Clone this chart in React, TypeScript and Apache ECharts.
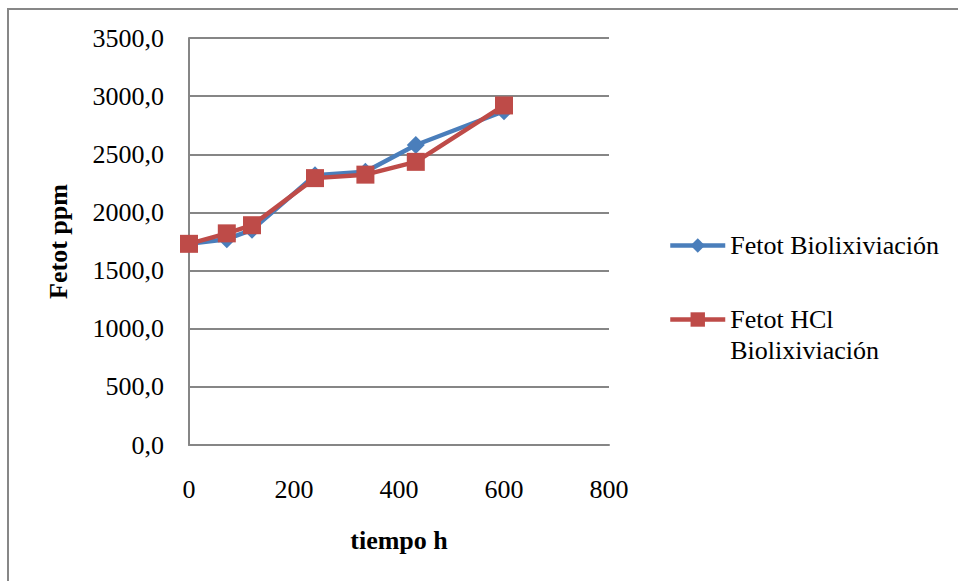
import React, { useEffect, useRef } from "react";
import * as echarts from "echarts";

const timeHours = [0, 72, 120, 240, 336, 432, 600];
const fetotBio = [1730, 1770, 1850, 2320, 2350, 2580, 2870];
const fetotHCl = [1730, 1820, 1890, 2295, 2325, 2435, 2920];
const seriesNames = ["Fetot Biolixiviación", "Fetot HCl Biolixiviación"];
const yTitle = "Fetot ppm";
const xTitle = "tiempo h";

const FONT = "Liberation Serif";

export default function App() {
  const ref = useRef<HTMLDivElement>(null);
  useEffect(() => {
    if (!ref.current) return;
    const chart = echarts.init(ref.current, undefined, { renderer: "svg" });
    const pair = (ys: number[]) => timeHours.map((x, i) => [x, ys[i]]);
    chart.setOption({
      animation: false,
      backgroundColor: "#ffffff",
      textStyle: { fontFamily: FONT },
      grid: { left: 189, top: 38, width: 420, height: 407, containLabel: false },
      xAxis: {
        type: "value",
        min: 0,
        max: 800,
        interval: 200,
        axisLine: { show: true, lineStyle: { color: "#868686", width: 2 } },
        axisTick: { show: false },
        splitLine: { show: false },
        axisLabel: { color: "#000", fontSize: 26, fontFamily: FONT, margin: 31 },
        name: xTitle,
        nameLocation: "middle",
        nameGap: 82,
        nameTextStyle: { color: "#000", fontSize: 26, fontWeight: "bold", fontFamily: FONT },
      },
      yAxis: {
        type: "value",
        min: 0,
        max: 3500,
        interval: 500,
        axisLine: { show: true, lineStyle: { color: "#868686", width: 2 } },
        axisTick: { show: false },
        splitLine: { show: true, lineStyle: { color: "#868686", width: 2 } },
        axisLabel: {
          color: "#000",
          fontSize: 26,
          fontFamily: FONT,
          margin: 25,
          formatter: (v: number) => v.toFixed(1).replace(".", ","),
        },
        name: yTitle,
        nameLocation: "middle",
        nameGap: 118,
        nameRotate: 90,
        nameTextStyle: { color: "#000", fontSize: 26, fontWeight: "bold", fontFamily: FONT },
      },
      legend: [
        {
          data: [seriesNames[0]],
          orient: "vertical",
          left: 668,
          top: 230,
          padding: 0,
          itemWidth: 55,
          itemHeight: 18,
          itemGap: 5,
          lineStyle: { width: 4.5 },
          textStyle: { color: "#000", fontSize: 26, fontFamily: FONT, lineHeight: 31 },
        },
        {
          data: [seriesNames[1]],
          orient: "vertical",
          left: 668,
          top: 273,
          padding: 0,
          itemWidth: 55,
          itemHeight: 18,
          lineStyle: { width: 4.5 },
          formatter: () => "\nFetot HCl\nBiolixiviación",
          textStyle: {
            color: "#000",
            fontSize: 26,
            fontFamily: FONT,
            lineHeight: 31,
          },
        },
      ],
      series: [
        {
          name: seriesNames[0],
          type: "line",
          data: pair(fetotBio),
          symbol: "diamond",
          symbolSize: 18,
          lineStyle: { color: "#4A7EBB", width: 4.5 },
          itemStyle: { color: "#4A7EBB" },
          z: 2,
        },
        {
          name: seriesNames[1],
          type: "line",
          data: pair(fetotHCl),
          symbol: "rect",
          symbolSize: 18,
          lineStyle: { color: "#BE4B48", width: 4.5 },
          itemStyle: { color: "#BE4B48" },
          z: 3,
        },
      ],
      graphic: [
        {
          type: "rect",
          shape: { x: 8, y: 9, width: 980, height: 620 },
          style: { fill: "none", stroke: "#878787", lineWidth: 2 },
          silent: true,
        },
      ],
    });
    return () => chart.dispose();
  }, []);
  return (
    <div
      ref={ref}
      style={{ position: "fixed", left: 0, top: 0, width: 958, height: 581 }}
    />
  );
}
